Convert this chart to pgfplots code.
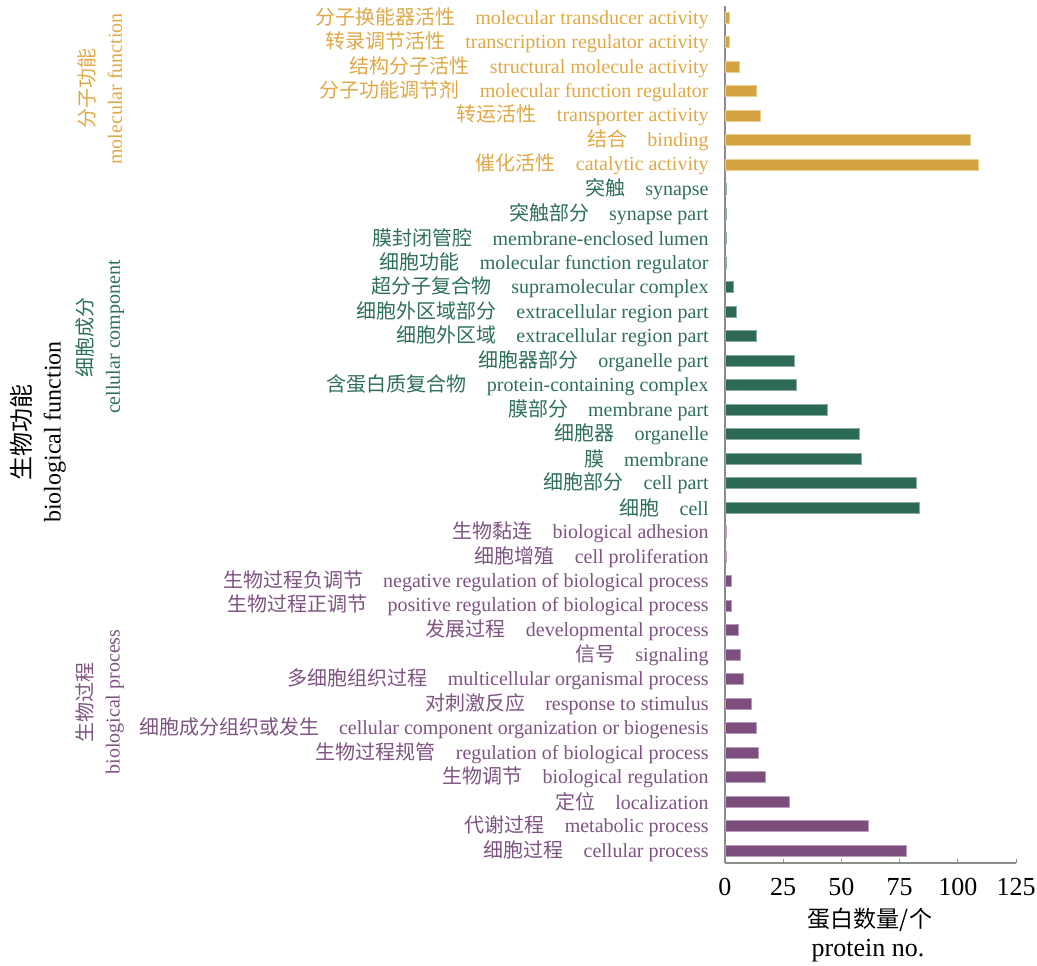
\documentclass[border=0pt]{standalone}
\usepackage{fontspec}
\setmainfont{Liberation Serif}
\newfontfamily\cjk{Noto Sans CJK SC}
\usepackage{pgfplots}
\pgfplotsset{compat=1.18}
\definecolor{gold}{HTML}{D4A441}
\definecolor{goldt}{HTML}{DFA845}
\definecolor{teal}{HTML}{2C6A55}
\definecolor{tealt}{HTML}{2E6F5A}
\definecolor{plum}{HTML}{7B4E7E}
\definecolor{plumt}{HTML}{7E5282}
\definecolor{axgray}{HTML}{8C8C8C}
\newcommand{\lab}[3]{\textcolor{#1}{{\cjk #2}\hspace{10pt}#3}}
\begin{document}
\begin{tikzpicture}
\begin{axis}[
  name=ax,
  scale only axis,
  width=145.5pt, height=428.75pt,
  xmin=0, xmax=125, ymin=-0.5, ymax=34.5,
  xbar, bar shift=0pt, bar width=0.45,
  axis x line*=bottom, axis y line*=left,
  axis line style={axgray, line width=0.6pt},
  xtick={0,25,...,125},
  tick align=inside,
  major tick length=2pt, minor tick length=2pt,
  tick style={axgray, line width=0.5pt},
  xticklabel style={font=\fontsize{13}{15}\selectfont, inner sep=0pt, yshift=-7.5pt},
  /pgf/number format/assume math mode=true,
  ytick={0,...,34},
  minor ytick={-0.5,0.5,...,34.5},
  ytick style={draw=none},
  minor tick style={axgray, line width=0.5pt},
  yticklabel style={font=\fontsize{10}{12}\selectfont, inner sep=0pt, anchor=east, xshift=-8pt},
  yticklabels={
    \lab{plumt}{细胞过程}{cellular process},
    \lab{plumt}{代谢过程}{metabolic process},
    \lab{plumt}{定位}{localization},
    \lab{plumt}{生物调节}{biological regulation},
    \lab{plumt}{生物过程规管}{regulation of biological process},
    \lab{plumt}{细胞成分组织或发生}{cellular component organization or biogenesis},
    \lab{plumt}{对刺激反应}{response to stimulus},
    \lab{plumt}{多细胞组织过程}{multicellular organismal process},
    \lab{plumt}{信号}{signaling},
    \lab{plumt}{发展过程}{developmental process},
    \lab{plumt}{生物过程正调节}{positive regulation of biological process},
    \lab{plumt}{生物过程负调节}{negative regulation of biological process},
    \lab{plumt}{细胞增殖}{cell proliferation},
    \lab{plumt}{生物黏连}{biological adhesion},
    \lab{tealt}{细胞}{cell},
    \lab{tealt}{细胞部分}{cell part},
    \lab{tealt}{膜}{membrane},
    \lab{tealt}{细胞器}{organelle},
    \lab{tealt}{膜部分}{membrane part},
    \lab{tealt}{含蛋白质复合物}{protein-containing complex},
    \lab{tealt}{细胞器部分}{organelle part},
    \lab{tealt}{细胞外区域}{extracellular region part},
    \lab{tealt}{细胞外区域部分}{extracellular region part},
    \lab{tealt}{超分子复合物}{supramolecular complex},
    \lab{tealt}{细胞功能}{molecular function regulator},
    \lab{tealt}{膜封闭管腔}{membrane-enclosed lumen},
    \lab{tealt}{突触部分}{synapse part},
    \lab{tealt}{突触}{synapse},
    \lab{goldt}{催化活性}{catalytic activity},
    \lab{goldt}{结合}{binding},
    \lab{goldt}{转运活性}{transporter activity},
    \lab{goldt}{分子功能调节剂}{molecular function regulator},
    \lab{goldt}{结构分子活性}{structural molecule activity},
    \lab{goldt}{转录调节活性}{transcription regulator activity},
    \lab{goldt}{分子换能器活性}{molecular transducer activity}
  },
]
\addplot[fill=plum, draw=plum!55!white, line width=0.4pt] coordinates {
  (78.1,0) (61.5,1) (27.6,2) (17.5,3) (14.5,4) (13.4,5) (11.5,6)
  (7.7,7) (6.5,8) (5.7,9) (2.7,10) (2.7,11) (0.5,12) (0.5,13)};
\addplot[fill=teal, draw=teal!55!white, line width=0.4pt] coordinates {
  (83.3,14) (82.4,15) (58.5,16) (57.6,17) (44.2,18) (30.6,19) (29.7,20)
  (13.4,21) (4.8,22) (3.5,23) (0.5,24) (0.5,25) (0.5,26) (0.5,27)};
\addplot[fill=gold, draw=gold!55!white, line width=0.4pt] coordinates {
  (109,28) (105.2,29) (15.4,30) (13.4,31) (6.4,32) (1.8,33) (1.8,34)};
\end{axis}
\node[rotate=90, align=center, font=\fontsize{12}{15}\selectfont] at ([shift={(-343.5pt,215.5pt)}]ax.south west) {{\cjk 生物功能}\\biological function};
\node[rotate=90, align=center, text=goldt, font=\fontsize{10}{13.5}\selectfont] at ([shift={(-312.5pt,387pt)}]ax.south west) {{\cjk 分子功能}\\molecular function};
\node[rotate=90, align=center, text=tealt, font=\fontsize{10}{13.5}\selectfont] at ([shift={(-312.5pt,263pt)}]ax.south west) {{\cjk 细胞成分}\\cellular component};
\node[rotate=90, align=center, text=plumt, font=\fontsize{10}{13.5}\selectfont] at ([shift={(-312.5pt,80.5pt)}]ax.south west) {{\cjk 生物过程}\\biological process};
\node[anchor=base, inner sep=0pt, font=\fontsize{11.5}{14}\selectfont] at ([shift={(72.5pt,-32pt)}]ax.south west) {\cjk 蛋白数量/个};
\node[anchor=base, inner sep=0pt, font=\fontsize{13}{15}\selectfont] at ([shift={(71.5pt,-46.5pt)}]ax.south west) {protein no.};
\pgfresetboundingbox
\path ([shift={(-362.5pt,-51pt)}]ax.south west) rectangle ++(518.5pt,482.5pt);
\end{tikzpicture}
\end{document}
